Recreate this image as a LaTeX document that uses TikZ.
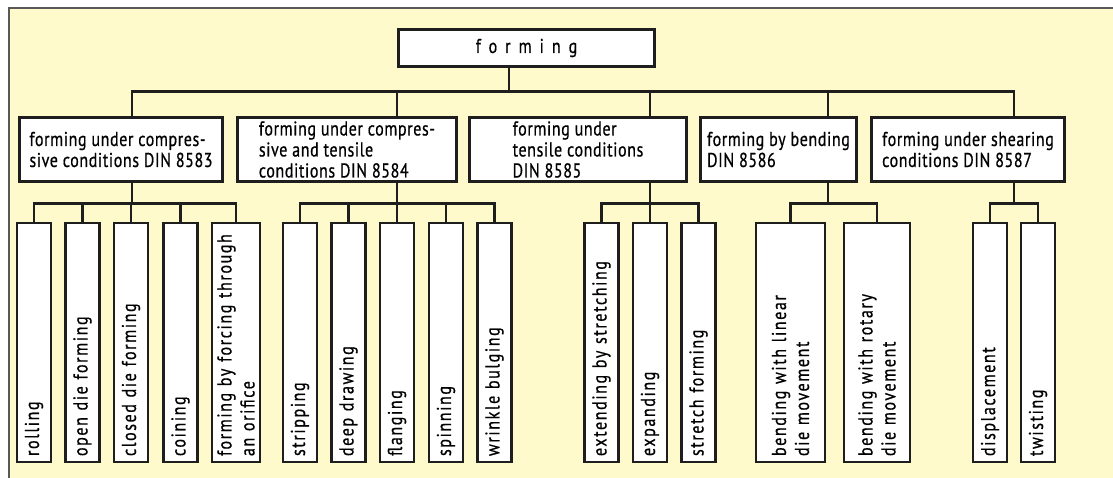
\documentclass[tikz,border=0pt]{standalone}
\usepackage{fontspec}
\setmainfont{PT Sans}[FakeStretch=0.8]
\newfontfamily\catfont{PT Sans}[FakeStretch=0.8,LetterSpace=3,FakeBold=0.6]
\newfontfamily\leaffont{PT Sans}[FakeStretch=0.8,LetterSpace=8,FakeBold=0.6]
\newfontfamily\rootfont{PT Sans}[FakeStretch=0.8,LetterSpace=40,FakeBold=0.6]
\definecolor{panel}{RGB}{255,250,204}
\definecolor{ink}{RGB}{30,30,30}

\begin{document}
\begin{tikzpicture}[x=1pt,y=-1pt,
	box/.style={draw=ink,fill=white,line width=2.8pt,inner sep=0pt},
	rootbox/.style={box,font=\rootfont\fontsize{20}{22}\selectfont,minimum width=256pt,minimum height=37pt},
	catbox/.style={box,font=\catfont\fontsize{20}{21}\selectfont,align=left,minimum height=64pt},
	leaf/.style={box,rotate=90,font=\leaffont\fontsize{20}{23}\selectfont,align=left,text width=227pt,inner xsep=6pt},
	conn/.style={draw=ink,line width=2.8pt}]
	\useasboundingbox (0,0) rectangle (1113,477);
	\draw[fill=panel,draw=gray!70!black,line width=1.2pt] (9,8) rectangle (1130,490);
	% root and the five groups
	\node[rootbox] (root) at (526.5,48) {forming};
	\node[catbox,minimum width=203pt] (c1) at (121,149.5) {forming under compres-\\sive conditions DIN 8583};
	\node[catbox,minimum width=219pt] (c2) at (347,149.5) {forming under compres-\\sive and tensile\\conditions DIN 8584};
	\node[catbox,minimum width=217pt] (c3) at (578,149.5) {forming under\\tensile conditions\\DIN 8585};
	\node[catbox,minimum width=156pt] (c4) at (778.5,149.5) {forming by bending\\DIN 8586};
	\node[catbox,minimum width=193pt] (c5) at (968,149.5) {forming under shearing\\conditions DIN 8587};
	\coordinate (rs) at (509,0);
	\foreach \c/\x in {1/132,2/397,3/650,4/828,5/1014} \coordinate (k\c) at (\x,0);
	% processes
	\foreach \x/\w/\nm/\txt in {34/34/l1/rolling, 82.5/34/l2/open die forming, 131/34/l3/closed die forming,
		180.5/34/l4/coining, 236/48/l5/{forming by forcing through\\an orifice},
		300/34/l6/stripping, 348.5/34/l7/deep drawing, 397/34/l8/flanging, 446/34/l9/spinning,
		494.5/34/l10/wrinkle bulging, 601.5/34/l11/extending by stretching, 650/34/l12/expanding,
		698.5/34/l13/stretch forming, 790.5/69/l14/{bending with linear\\die movement},
		877/66/l15/{bending with rotary\\die movement}, 990/34/l16/displacement, 1038/34/l17/twisting}
		\node[leaf,minimum height=\w pt] (\nm) at (\x,342.5) {\txt};
	% connectors
	\foreach \c in {1,...,5} \draw[conn] (root.south -| rs) -- ++(0,23.5) -| (c\c.north -| k\c);
	\foreach \c/\l in {1/l1,1/l2,1/l3,1/l4,1/l5,2/l6,2/l7,2/l8,2/l9,2/l10,3/l11,3/l12,3/l13,4/l14,4/l15,5/l16,5/l17}
		\draw[conn] (c\c.south -| k\c) -- ++(0,20.5) -| (\l.east);
\end{tikzpicture}
\end{document}
